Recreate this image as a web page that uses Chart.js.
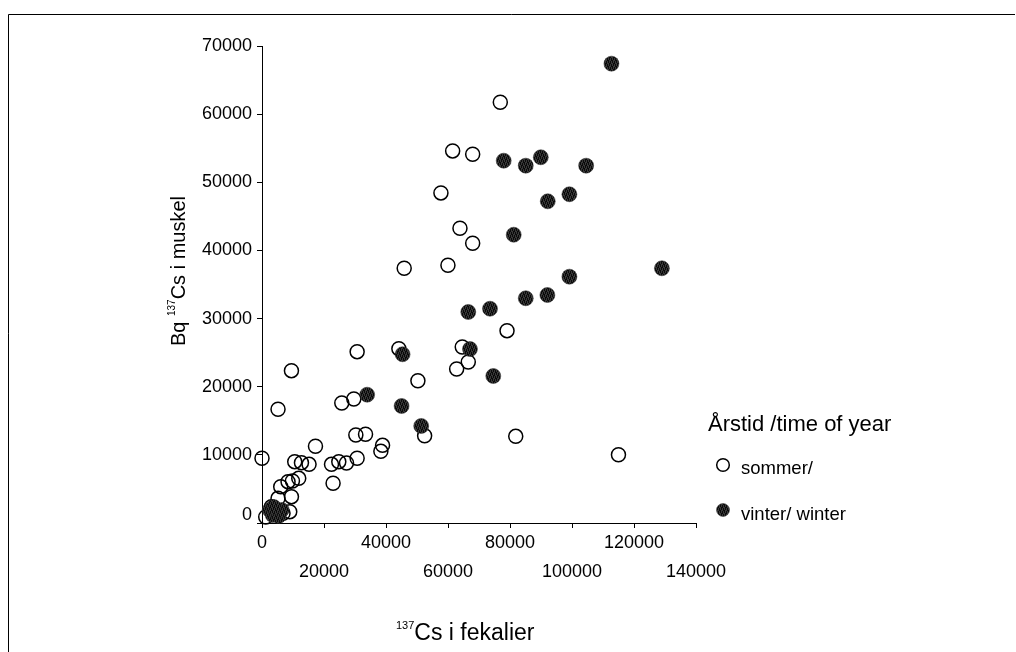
<!DOCTYPE html>
<html><head><meta charset="utf-8">
<script src="https://cdn.jsdelivr.net/npm/chart.js@4/dist/chart.umd.min.js"></script>
<style>html,body{margin:0;padding:0;background:#fff;}canvas{display:block}</style>
</head><body>
<canvas id="c" width="1016" height="652"></canvas>
<script>
const seriesNames = ['sommer/', 'vinter/ winter'];
const legendTitle = 'Årstid /time of year';
const xTitleSup = '137', xTitleMain = 'Cs i fekalier';
const yTitlePre = 'Bq ', yTitleSup = '137', yTitleMain = 'Cs i muskel';
const xTicks = [0, 20000, 40000, 60000, 80000, 100000, 120000, 140000];
const yTicks = [0, 10000, 20000, 30000, 40000, 50000, 60000, 70000];

const summerX = [61500, 67960, 57720, 63860, 67960, 45870, 59980, 76870, 79040, 81850, 114990, 64600, 66540, 62790, 50290, 44150, 30690, 9500, 29620, 25740, 5170, 52460, 30270, 33400, 17250, 38890, 38340, 0, 10560, 12730, 15180, 22420, 24770, 27260, 30690, 22930, 11850, 8400, 9820, 6040, 9500, 5170, 8950, 3040, 6780, 4650, 1200];
const summerY = [54600, 54110, 48440, 43250, 41050, 37380, 37820, 61740, 28220, 12720, 10020, 25830, 23630, 22600, 20880, 25580, 25140, 22350, 18200, 17610, 16690, 12810, 12910, 13020, 11260, 11400, 10520, 9500, 9000, 8850, 8610, 8610, 9000, 8810, 9500, 5830, 6560, 6060, 6160, 5330, 3860, 3620, 1660, 2390, 1420, 1910, 880];
const winterX = [112730, 77970, 85080, 89930, 104560, 99160, 92180, 81200, 129000, 99160, 92060, 85080, 73550, 66540, 67090, 45350, 33920, 45030, 74610, 51360, 2490, 3460, 4430, 5390, 6360, 3780];
const winterY = [67410, 53170, 52440, 53670, 52440, 48240, 47210, 42310, 37380, 36150, 33460, 32980, 31450, 30970, 25530, 24760, 18830, 17170, 21570, 14240, 1910, 1170, 1610, 1030, 1910, 2350];

const FONT = "'Liberation Sans', Arial, Helvetica, sans-serif";
Chart.defaults.font.family = FONT;
Chart.defaults.color = '#000';

function makePattern() {
  const c = document.createElement('canvas');
  c.width = 4; c.height = 6;
  const g = c.getContext('2d');
  g.fillStyle = '#383838'; g.fillRect(0, 0, 4, 6);
  g.fillStyle = '#0a0a0a';
  g.fillRect(0, 0, 1, 3); g.fillRect(1, 3, 1, 3);
  g.fillRect(2, 1, 1, 3); g.fillRect(3, 4, 1, 2); g.fillRect(3, 0, 1, 1);
  return g.createPattern(c, 'repeat');
}
const winterFill = makePattern();

const toPts = (xs, ys) => xs.map((x, i) => ({ x, y: ys[i] }));

const decor = {
  id: 'decor',
  beforeDraw(chart) {
    const ctx = chart.ctx;
    ctx.save();
    ctx.fillStyle = '#fff';
    ctx.fillRect(0, 0, chart.width, chart.height);
    ctx.strokeStyle = '#000'; ctx.lineWidth = 1;
    ctx.beginPath();
    ctx.moveTo(8.5, chart.height); ctx.lineTo(8.5, 14.5); ctx.lineTo(1015, 14.5);
    ctx.stroke();
    ctx.restore();
  },
  afterDraw(chart) {
    const ctx = chart.ctx;
    const ys = chart.scales.y;
    ctx.save();
    ctx.fillStyle = '#000';
    // zero label of y axis (drawn slightly above the axis as in the source)
    ctx.font = '18px ' + FONT;
    ctx.textAlign = 'right'; ctx.textBaseline = 'middle';
    ctx.fillText('0', ys.right - 10, ys.getPixelForValue(0) - 8);

    // x title
    ctx.textAlign = 'left'; ctx.textBaseline = 'alphabetic';
    let x = 396;
    ctx.font = '11px ' + FONT;
    ctx.fillText(xTitleSup, x, 629);
    x += ctx.measureText(xTitleSup).width;
    ctx.font = '23px ' + FONT;
    ctx.fillText(xTitleMain, x, 640);

    // y title (rotated)
    ctx.save();
    ctx.translate(185, 271);
    ctx.rotate(-Math.PI / 2);
    ctx.font = '20px ' + FONT;
    const w1 = ctx.measureText(yTitlePre).width;
    const w3 = ctx.measureText(yTitleMain).width;
    ctx.font = '10px ' + FONT;
    const w2 = ctx.measureText(yTitleSup).width;
    let tx = -(w1 + w2 + w3) / 2;
    ctx.font = '20px ' + FONT;
    ctx.fillText(yTitlePre, tx, 0); tx += w1;
    ctx.font = '10px ' + FONT;
    ctx.fillText(yTitleSup, tx, -10); tx += w2;
    ctx.font = '20px ' + FONT;
    ctx.fillText(yTitleMain, tx, 0);
    ctx.restore();

    // legend
    ctx.font = '22px ' + FONT;
    ctx.fillText(legendTitle, 708, 431);
    ctx.font = '18.5px ' + FONT;
    ctx.textBaseline = 'middle';
    const items = [
      { ds: chart.data.datasets[1], mx: 723, my: 465, r: 6.3, ty: 469 },
      { ds: chart.data.datasets[0], mx: 723, my: 510, r: 6.5, ty: 515 }
    ];
    items.forEach(it => {
      ctx.beginPath();
      ctx.arc(it.mx, it.my, it.r, 0, Math.PI * 2);
      if (it.ds.backgroundColor && it.ds.backgroundColor !== 'rgba(0,0,0,0)') {
        ctx.fillStyle = it.ds.backgroundColor; ctx.fill();
      }
      ctx.lineWidth = it.ds.borderWidth;
      ctx.strokeStyle = it.ds.borderColor; ctx.stroke();
      ctx.fillStyle = '#000';
      ctx.fillText(it.ds.label, 741, it.ty);
    });
    ctx.restore();
  }
};

new Chart(document.getElementById('c'), {
  type: 'scatter',
  data: {
    datasets: [
      { label: seriesNames[1], data: toPts(winterX, winterY), order: 0,
        backgroundColor: winterFill, borderColor: '#2a2a2a', borderWidth: 0.5,
        pointRadius: 7.5, pointHoverRadius: 7.5 },
      { label: seriesNames[0], data: toPts(summerX, summerY), order: 1,
        backgroundColor: 'rgba(0,0,0,0)', borderColor: '#000', borderWidth: 1.5,
        pointRadius: 7, pointHoverRadius: 7 }
    ]
  },
  options: {
    responsive: false,
    animation: false,
    devicePixelRatio: 1,
    layout: { padding: { left: 0, top: 46, right: 320, bottom: 0 } },
    plugins: { legend: { display: false }, tooltip: { enabled: false } },
    elements: { point: { pointStyle: 'circle' } },
    clip: false,
    scales: {
      x: {
        type: 'linear', min: 0, max: 140000,
        afterBuildTicks: s => { s.ticks = xTicks.map(v => ({ value: v })); },
        afterFit: s => { s.height = 129; },
        border: { display: true, color: '#000', width: 1 },
        grid: { drawOnChartArea: false, drawTicks: true, tickLength: 5, color: '#000', lineWidth: 1 },
        ticks: {
          autoSkip: false, maxRotation: 0, padding: 1, color: '#000',
          font: { size: 18, lineHeight: 1.6 },
          callback: (v, i) => (i % 2 === 0 ? String(v) : ['', String(v)])
        }
      },
      y: {
        type: 'linear', min: 0, max: 70000,
        afterBuildTicks: s => { s.ticks = yTicks.map(v => ({ value: v })); },
        afterFit: s => { s.width = 262; },
        border: { display: true, color: '#000', width: 1 },
        grid: { drawOnChartArea: false, drawTicks: true, tickLength: 5, color: '#000', lineWidth: 1 },
        ticks: {
          padding: 5, color: '#000', font: { size: 18 },
          callback: v => (v === 0 ? '' : String(v))
        }
      }
    }
  },
  plugins: [decor]
});
</script>
</body></html>
